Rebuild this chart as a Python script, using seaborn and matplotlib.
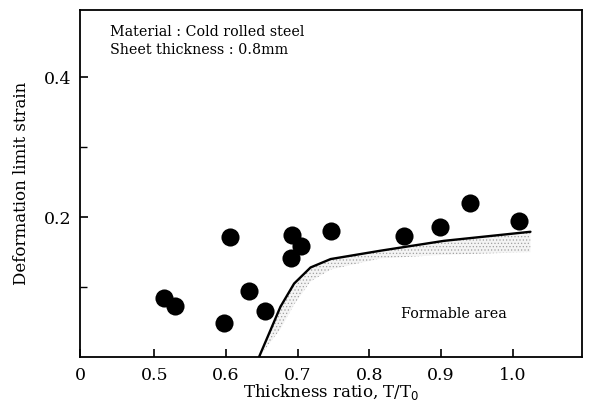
import matplotlib
matplotlib.use("Agg")
import matplotlib.pyplot as plt
import seaborn as sns
import pandas as pd

# data
pt_x = [0.513, 0.529, 0.597, 0.606, 0.632, 0.654, 0.692, 0.704, 0.691, 0.747, 0.848, 0.899, 0.941, 1.009]
pt_y = [0.085, 0.073, 0.048, 0.172, 0.095, 0.066, 0.174, 0.158, 0.141, 0.180, 0.173, 0.186, 0.220, 0.195]

curve_x = [0.646, 0.676, 0.695, 0.718, 0.746, 0.816, 0.904, 1.025]
curve_y = [0.000, 0.072, 0.105, 0.128, 0.140, 0.152, 0.166, 0.179]
band_low = [0.000, 0.040, 0.075, 0.108, 0.125, 0.141, 0.146, 0.150]

xtick_vals = [0.396, 0.5, 0.6, 0.7, 0.8, 0.9, 1.0]
xtick_labels = ["0", "0.5", "0.6", "0.7", "0.8", "0.9", "1.0"]
ytick_major = [0.2, 0.4]
ytick_minor = [0.1, 0.3]

sns.set_theme(style="ticks")
plt.rcParams["font.family"] = ["DejaVu Serif"]
plt.rcParams["hatch.linewidth"] = 0.5
for k in ["text.color", "axes.labelcolor", "xtick.color", "ytick.color", "axes.edgecolor"]:
    plt.rcParams[k] = "black"

fig = plt.figure(figsize=(5.9, 4.03), dpi=100)
ax = fig.add_axes([80/590, 1 - 357/403, 502/590, 347/403])

pts = pd.DataFrame({"x": pt_x, "y": pt_y})
cur = pd.DataFrame({"x": curve_x, "y": curve_y})

ax.fill_between(curve_x, band_low, curve_y, facecolor="#f4f4f4", edgecolor="#a0a0a0",
                hatch=".....", linewidth=0)
sns.lineplot(data=cur, x="x", y="y", ax=ax, color="black", linewidth=1.7, sort=False)
sns.scatterplot(data=pts, x="x", y="y", ax=ax, color="black", s=170, edgecolor="black", linewidth=0)

ax.set_xlim(0.396, 1.097)
ax.set_ylim(0, 0.496)
ax.set_xticks(xtick_vals)
ax.set_xticklabels(xtick_labels)
ax.set_yticks(ytick_major)
ax.set_yticklabels(["0.2", "0.4"])
ax.set_yticks(ytick_minor, minor=True)
ax.tick_params(axis="both", which="major", direction="in", length=6, width=1.2, labelsize=12.5, pad=6)
ax.tick_params(axis="y", which="minor", direction="in", length=5, width=1.0)
ax.tick_params(axis="x", which="major", pad=7)
for s in ax.spines.values():
    s.set_linewidth(1.3)

ax.set_xlabel("Thickness ratio, T/T$_0$", fontsize=12, labelpad=-1)
ax.set_ylabel("Deformation limit strain", fontsize=12, labelpad=10)

ax.text(0.06, 0.937, "Material : Cold rolled steel", transform=ax.transAxes, fontsize=10.3, va="center", ha="left")
ax.text(0.06, 0.885, "Sheet thickness : 0.8mm", transform=ax.transAxes, fontsize=10.3, va="center", ha="left")
ax.text(0.918, 0.061, "Formable area", fontsize=10.3, ha="center", va="center")

fig.savefig("out.png", dpi=100)
